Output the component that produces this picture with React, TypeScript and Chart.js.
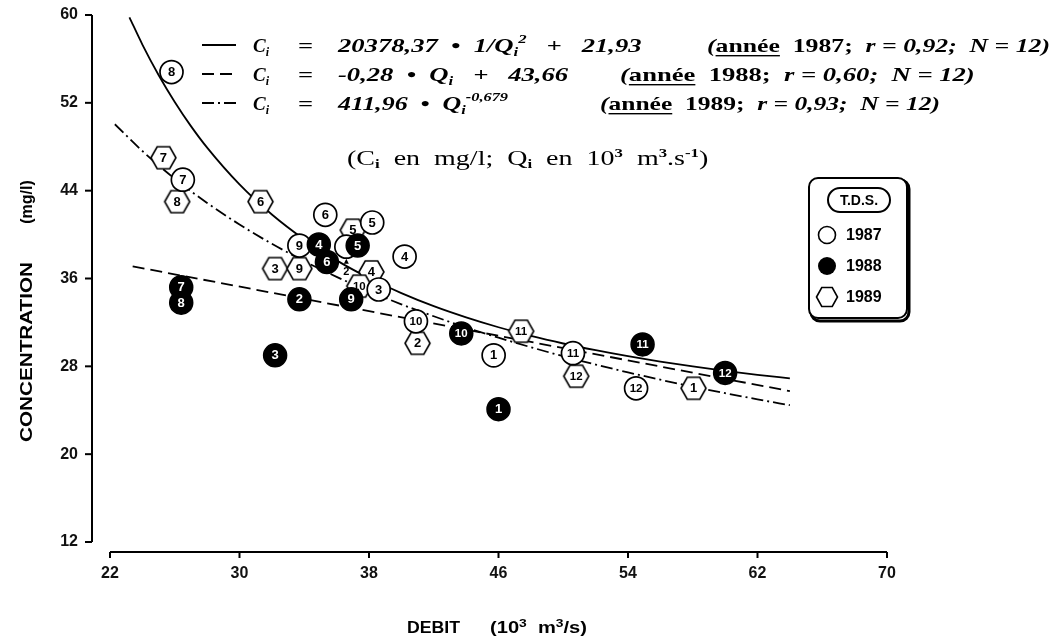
import React, { useEffect, useRef } from "react";
import { Chart, registerables } from "chart.js";

Chart.register(...registerables);

// ---------- data ----------
const xTicks = [22, 30, 38, 46, 54, 62, 70];
const yTicks = [12, 20, 28, 36, 44, 52, 60];

// 1987 : white circles (first entry = month 2, hidden behind a 1988 marker)
const labels1987 = ["", "8", "7", "6", "5", "9", "4", "3", "10", "1", "11", "12"];
const q1987 = [36.6, 25.8, 26.5, 35.3, 38.2, 33.7, 40.2, 38.6, 40.9, 45.7, 50.6, 54.5];
const c1987 = [38.9, 54.8, 45.0, 41.8, 41.1, 39.0, 38.0, 35.0, 32.1, 29.0, 29.2, 26.0];

// 1988 : black circles
const labels1988 = ["7", "8", "2", "3", "4", "6", "5", "9", "10", "1", "11", "12"];
const q1988 = [26.4, 26.4, 33.7, 32.2, 34.9, 35.4, 37.3, 36.9, 43.7, 46.0, 54.9, 60.0];
const c1988 = [35.2, 33.8, 34.1, 29.0, 39.1, 37.5, 39.0, 34.1, 31.0, 24.1, 30.0, 27.4];

// 1989 : hexagons
const labels1989 = ["7", "8", "6", "5", "3", "9", "4", "10", "2", "11", "12", "1"];
const q1989 = [25.3, 26.15, 31.3, 37.0, 32.2, 33.7, 38.15, 37.4, 41.0, 47.4, 50.8, 58.05];
const c1989 = [47.0, 43.0, 43.0, 40.4, 36.9, 36.9, 36.6, 35.3, 30.1, 31.2, 27.1, 26.0];

// fitted curves
const fitQ1987 = [23.2, 24, 25, 26, 27, 28, 30, 32, 34, 36, 38, 40, 42, 44, 46, 48, 50, 52, 54, 56, 58, 60, 62, 64];
const fitC1987 = [59.79, 57.31, 54.54, 52.08, 49.88, 47.92, 44.57, 41.83, 39.56, 37.65, 36.04, 34.67, 33.48, 32.46, 31.56, 30.77, 30.08, 29.47, 28.92, 28.43, 27.99, 27.59, 27.23, 26.91];
const fitQ1988 = [23.4, 64];
const fitC1988 = [37.11, 25.74];
const fitQ1989 = [22.3, 24, 26, 28, 30, 32, 34, 36, 38, 40, 42, 44, 46, 48, 50, 52, 54, 56, 58, 60, 62, 64];
const fitC1989 = [50.05, 47.61, 45.09, 42.88, 40.92, 39.16, 37.58, 36.15, 34.85, 33.65, 32.56, 31.54, 30.61, 29.74, 28.92, 28.16, 27.45, 26.78, 26.15, 25.56, 24.99, 24.46];

const years = ["1987", "1988", "1989"];

// ---------- helpers ----------
const SANS = "'Liberation Sans', Arial, sans-serif";
const SERIF = "'Liberation Serif', 'Times New Roman', serif";
const DASH_1988 = [12, 6];
const DASH_1989 = [12, 4, 2, 4];

function hexPath(g: CanvasRenderingContext2D, cx: number, cy: number, w: number, h: number) {
  g.beginPath();
  g.moveTo(cx - w / 2, cy);
  g.lineTo(cx - w / 4, cy - h / 2);
  g.lineTo(cx + w / 4, cy - h / 2);
  g.lineTo(cx + w / 2, cy);
  g.lineTo(cx + w / 4, cy + h / 2);
  g.lineTo(cx - w / 4, cy + h / 2);
  g.closePath();
}

function makeHex(w: number, h: number, lw = 1.6) {
  const c = document.createElement("canvas");
  c.width = Math.ceil(w + lw * 2 + 2);
  c.height = Math.ceil(h + lw * 2 + 2);
  const g = c.getContext("2d")!;
  hexPath(g, c.width / 2, c.height / 2, w, h);
  g.fillStyle = "#fff";
  g.fill();
  g.lineWidth = lw;
  g.strokeStyle = "#000";
  g.stroke();
  return c;
}

type Seg = { t: string; f: string; dy?: number; u?: boolean };

function drawRich(ctx: CanvasRenderingContext2D, segs: Seg[], x: number, y: number, target?: number) {
  ctx.save();
  const widths = segs.map((s) => {
    ctx.font = s.f;
    return ctx.measureText(s.t).width;
  });
  const total = widths.reduce((a, b) => a + b, 0);
  const sx = target ? Math.min(1.4, Math.max(0.75, target / total)) : 1;
  ctx.translate(x, y);
  ctx.scale(sx, 1);
  ctx.textAlign = "left";
  ctx.textBaseline = "alphabetic";
  ctx.fillStyle = "#000";
  let cx = 0;
  segs.forEach((s, i) => {
    ctx.font = s.f;
    ctx.fillText(s.t, cx, s.dy || 0);
    if (s.u) ctx.fillRect(cx, 3, widths[i], 1.4);
    cx += widths[i];
  });
  ctx.restore();
}

const IT = `italic bold 19px ${SERIF}`;
const RM = `bold 19px ${SERIF}`;
const SUB = `italic bold 12px ${SERIF}`;
const SUP = `italic bold 12px ${SERIF}`;
const RSUB = `bold 12px ${SERIF}`;

const decorPlugin = {
  id: "decor",
  afterDatasetDraw(chart: any, args: any) {
    const ds = chart.data.datasets[args.index];
    if (!ds.markLabels) return;
    const ctx: CanvasRenderingContext2D = chart.ctx;
    ctx.save();
    ctx.textAlign = "center";
    ctx.textBaseline = "middle";
    args.meta.data.forEach((el: any, i: number) => {
      const t = ds.markLabels[i];
      if (t) {
        ctx.font = `bold ${t.length > 1 ? 11.5 : 13}px ${SANS}`;
        ctx.fillStyle = ds.labelColor;
        ctx.fillText(t, el.x, el.y + 0.5);
      } else if (ds.hiddenNote) {
        // small pointer label for the hidden marker
        ctx.fillStyle = "#000";
        ctx.beginPath();
        ctx.moveTo(el.x, el.y + 12);
        ctx.lineTo(el.x - 2.5, el.y + 17);
        ctx.lineTo(el.x + 2.5, el.y + 17);
        ctx.closePath();
        ctx.fill();
        ctx.font = `bold 11px ${SANS}`;
        ctx.fillText(ds.hiddenNote, el.x, el.y + 25);
      }
    });
    ctx.restore();
  },
  afterDraw(chart: any) {
    const ctx: CanvasRenderingContext2D = chart.ctx;
    const xs = chart.scales.x;
    const ys = chart.scales.y;
    const area = chart.chartArea;
    ctx.save();
    ctx.strokeStyle = "#000";
    ctx.fillStyle = "#000";
    ctx.lineWidth = 2;
    ctx.setLineDash([]);

    // detached y axis
    const ax = area.left - 18;
    ctx.beginPath();
    ctx.moveTo(ax, ys.getPixelForValue(yTicks[yTicks.length - 1]));
    ctx.lineTo(ax, ys.getPixelForValue(yTicks[0]));
    ctx.stroke();
    yTicks.forEach((v) => {
      const py = ys.getPixelForValue(v);
      ctx.beginPath();
      ctx.moveTo(ax - 7, py);
      ctx.lineTo(ax, py);
      ctx.stroke();
    });

    // detached x axis
    const ay = area.bottom + 10;
    ctx.beginPath();
    ctx.moveTo(xs.getPixelForValue(xTicks[0]), ay);
    ctx.lineTo(xs.getPixelForValue(xTicks[xTicks.length - 1]), ay);
    ctx.stroke();
    xTicks.forEach((v) => {
      const px = xs.getPixelForValue(v);
      ctx.beginPath();
      ctx.moveTo(px, ay);
      ctx.lineTo(px, ay + 6);
      ctx.stroke();
    });

    // axis titles
    ctx.textBaseline = "middle";
    ctx.save();
    ctx.translate(28, 0);
    ctx.rotate(-Math.PI / 2);
    ctx.font = `bold 16px ${SANS}`;
    ctx.textAlign = "center";
    ctx.save();
    ctx.translate(-352, 0);
    const cw = ctx.measureText("CONCENTRATION").width;
    ctx.scale(180 / cw, 1);
    ctx.fillText("CONCENTRATION", 0, 0);
    ctx.restore();
    ctx.fillText("(mg/l)", -202, 0);
    ctx.restore();

    const AX = `bold 16px ${SANS}`;
    const AXS = `bold 11px ${SANS}`;
    drawRich(ctx, [{ t: "DEBIT", f: AX }], 407, 633, 53);
    drawRich(ctx, [
      { t: "(10", f: AX },
      { t: "3", f: AXS, dy: -6 },
      { t: "  m", f: AX },
      { t: "3", f: AXS, dy: -6 },
      { t: "/s)", f: AX },
    ], 490, 633, 97);

    // equations block
    ctx.lineWidth = 2;
    const symbolY = [45, 74, 103];
    const dashes = [[], DASH_1988, DASH_1989];
    symbolY.forEach((yy, i) => {
      ctx.setLineDash(dashes[i]);
      ctx.beginPath();
      ctx.moveTo(202, yy);
      ctx.lineTo(236, yy);
      ctx.stroke();
    });
    ctx.setLineDash([]);

    const base = [52, 81, 110];
    base.forEach((b) => {
      drawRich(ctx, [{ t: "C", f: IT }, { t: "i", f: SUB, dy: 4 }], 253, b);
      drawRich(ctx, [{ t: "=", f: RM }], 298, b, 17);
    });

    drawRich(ctx, [
      { t: "20378,37  •  1/Q", f: IT },
      { t: "i", f: SUB, dy: 4 },
      { t: "2", f: SUP, dy: -9 },
      { t: "   +   21,93", f: IT },
    ], 338, base[0], 315);
    drawRich(ctx, [
      { t: "(", f: IT },
      { t: "année", f: RM, u: true },
      { t: "  1987;  ", f: RM },
      { t: "r = 0,92;  N = 12)", f: IT },
    ], 707, base[0], 343);

    drawRich(ctx, [
      { t: "-0,28  •  Q", f: IT },
      { t: "i", f: SUB, dy: 4 },
      { t: "   +   43,66", f: IT },
    ], 338, base[1], 244);
    drawRich(ctx, [
      { t: "(", f: IT },
      { t: "année", f: RM, u: true },
      { t: "  1988;  ", f: RM },
      { t: "r = 0,60;  N = 12)", f: IT },
    ], 620, base[1], 358);

    drawRich(ctx, [
      { t: "411,96  •  Q", f: IT },
      { t: "i", f: SUB, dy: 4 },
      { t: "-0,679", f: SUP, dy: -9 },
    ], 338, base[2], 170);
    drawRich(ctx, [
      { t: "(", f: IT },
      { t: "année", f: RM, u: true },
      { t: "  1989;  ", f: RM },
      { t: "r = 0,93;  N = 12)", f: IT },
    ], 600, base[2], 340);

    const RM2 = `20px ${SERIF}`;
    const SUP2 = `bold 12px ${SERIF}`;
    drawRich(ctx, [
      { t: "(C", f: RM2 },
      { t: "i", f: RSUB, dy: 3 },
      { t: "  en  mg/l;  Q", f: RM2 },
      { t: "i", f: RSUB, dy: 3 },
      { t: "  en  10", f: RM2 },
      { t: "3", f: SUP2, dy: -8 },
      { t: "  m", f: RM2 },
      { t: "3", f: SUP2, dy: -8 },
      { t: ".s", f: RM2 },
      { t: "-1", f: SUP2, dy: -8 },
      { t: ")", f: RM2 },
    ], 347, 165, 393);

    // T.D.S. legend box
    ctx.lineWidth = 3;
    ctx.beginPath();
    ctx.roundRect(811, 180, 98, 141, 9);
    ctx.stroke();
    ctx.lineWidth = 2;
    ctx.beginPath();
    ctx.roundRect(809, 178, 98, 140, 9);
    ctx.fillStyle = "#fff";
    ctx.fill();
    ctx.stroke();
    ctx.beginPath();
    ctx.roundRect(828, 188, 62, 24, 12);
    ctx.stroke();
    ctx.fillStyle = "#000";
    ctx.font = `bold 14px ${SANS}`;
    ctx.textAlign = "center";
    ctx.textBaseline = "middle";
    ctx.fillText("T.D.S.", 859, 201);

    const rowY = [235, 266, 297];
    ctx.lineWidth = 1.6;
    ctx.beginPath();
    ctx.arc(827, rowY[0], 8.5, 0, Math.PI * 2);
    ctx.fillStyle = "#fff";
    ctx.fill();
    ctx.stroke();
    ctx.beginPath();
    ctx.arc(827, rowY[1], 9, 0, Math.PI * 2);
    ctx.fillStyle = "#000";
    ctx.fill();
    hexPath(ctx, 827, rowY[2], 21, 19);
    ctx.fillStyle = "#fff";
    ctx.fill();
    ctx.stroke();
    ctx.fillStyle = "#000";
    ctx.font = `bold 16px ${SANS}`;
    ctx.textAlign = "left";
    years.forEach((yr, i) => ctx.fillText(yr, 846, rowY[i] + 1));

    ctx.restore();
  },
};

export default function App() {
  const ref = useRef<HTMLCanvasElement | null>(null);

  useEffect(() => {
    document.body.style.margin = "0";
    const canvas = ref.current!;
    const hexImg = makeHex(25, 22);
    const tickFont = { family: "'Liberation Sans', Arial, sans-serif", size: 16, weight: "bold" as const };

    const chart = new Chart(canvas, {
      type: "scatter",
      data: {
        datasets: [
          {
            label: "1988",
            data: q1988.map((q, i) => ({ x: q, y: c1988[i] })),
            pointStyle: "circle",
            pointRadius: 11.5,
            backgroundColor: "#000",
            borderColor: "#000",
            borderWidth: 1.5,
            order: 1,
            markLabels: labels1988,
            labelColor: "#fff",
          } as any,
          {
            label: "1987",
            data: q1987.map((q, i) => ({ x: q, y: c1987[i] })),
            pointStyle: "circle",
            pointRadius: 11.5,
            backgroundColor: "#fff",
            borderColor: "#000",
            borderWidth: 1.7,
            order: 2,
            markLabels: labels1987,
            labelColor: "#000",
            hiddenNote: "2",
          } as any,
          {
            label: "1989",
            data: q1989.map((q, i) => ({ x: q, y: c1989[i] })),
            pointStyle: hexImg,
            pointRadius: 11,
            order: 3,
            markLabels: labels1989,
            labelColor: "#000",
          } as any,
          {
            label: "fit 1987",
            data: fitQ1987.map((q, i) => ({ x: q, y: fitC1987[i] })),
            showLine: true,
            pointRadius: 0,
            borderColor: "#000",
            borderWidth: 1.8,
            cubicInterpolationMode: "monotone",
            order: 10,
          } as any,
          {
            label: "fit 1988",
            data: fitQ1988.map((q, i) => ({ x: q, y: fitC1988[i] })),
            showLine: true,
            pointRadius: 0,
            borderColor: "#000",
            borderWidth: 1.8,
            borderDash: DASH_1988,
            order: 11,
          } as any,
          {
            label: "fit 1989",
            data: fitQ1989.map((q, i) => ({ x: q, y: fitC1989[i] })),
            showLine: true,
            pointRadius: 0,
            borderColor: "#000",
            borderWidth: 1.8,
            borderDash: DASH_1989,
            cubicInterpolationMode: "monotone",
            order: 12,
          } as any,
        ],
      },
      options: {
        responsive: false,
        animation: false,
        events: [],
        layout: { autoPadding: false, padding: { top: 15, right: 173, left: 0, bottom: 0 } },
        plugins: { legend: { display: false }, tooltip: { enabled: false } },
        scales: {
          x: {
            type: "linear",
            min: xTicks[0],
            max: xTicks[xTicks.length - 1],
            afterBuildTicks: (s: any) => {
              s.ticks = xTicks.map((v) => ({ value: v }));
            },
            afterFit: (s: any) => {
              s.height = 98;
            },
            grid: { display: false, drawTicks: true, tickLength: 22 },
            border: { display: false },
            ticks: { padding: 0, font: tickFont, color: "#111", maxRotation: 0 },
          },
          y: {
            type: "linear",
            min: yTicks[0],
            max: yTicks[yTicks.length - 1],
            afterBuildTicks: (s: any) => {
              s.ticks = yTicks.map((v) => ({ value: v }));
            },
            afterFit: (s: any) => {
              s.width = 110;
            },
            grid: { display: false, drawTicks: true, tickLength: 32 },
            border: { display: false },
            ticks: { padding: 0, font: tickFont, color: "#111" },
          },
        },
      },
      plugins: [decorPlugin],
    });
    return () => chart.destroy();
  }, []);

  return (
    <div style={{ width: 1060, height: 640, background: "#fff" }}>
      <canvas ref={ref} width={1060} height={640} style={{ display: "block" }} />
    </div>
  );
}
